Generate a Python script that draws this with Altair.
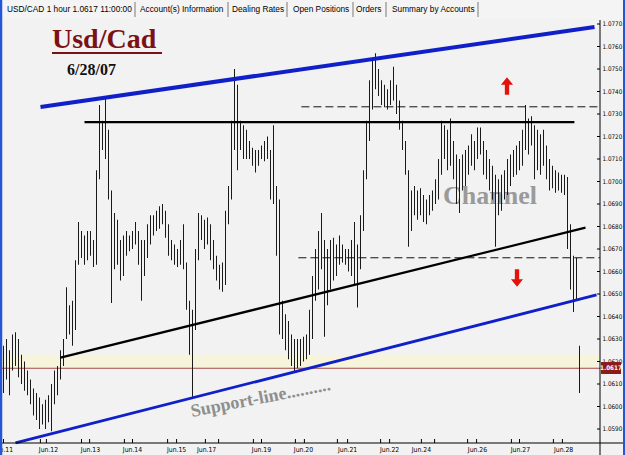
import altair as alt
import pandas as pd

# ---------------- data ----------------
high = [1.0627, 1.0630, 1.0625, 1.0632, 1.0633, 1.0630, 1.0623, 1.0620, 1.0616, 1.0612,
        1.0608, 1.0606, 1.0604, 1.0601, 1.0603, 1.0605, 1.0610, 1.0616, 1.0618, 1.0625,
        1.0630, 1.0653, 1.0645, 1.0647, 1.0665, 1.0682, 1.0678, 1.0676, 1.0678, 1.0678,
        1.0674, 1.0705, 1.0734, 1.0727, 1.0738, 1.0723, 1.0696, 1.0686, 1.0683, 1.0674,
        1.0676, 1.0678, 1.0676, 1.0678, 1.0682, 1.0678, 1.0674, 1.0674, 1.0681, 1.0685,
        1.0685, 1.0687, 1.0689, 1.0690, 1.0687, 1.0681, 1.0674, 1.0672, 1.0670, 1.0674,
        1.0681, 1.0664, 1.0647, 1.0643, 1.0670, 1.0686, 1.0685, 1.0683, 1.0684, 1.0681,
        1.0674, 1.0667, 1.0663, 1.0664, 1.0687, 1.0698, 1.0727, 1.0750, 1.0743, 1.0727,
        1.0725, 1.0723, 1.0718, 1.0715, 1.0714, 1.0714, 1.0716, 1.0718, 1.0720, 1.0714,
        1.0725, 1.0698, 1.0692, 1.0647, 1.0641, 1.0638, 1.0632, 1.0630, 1.0630, 1.0630,
        1.0631, 1.0632, 1.0643, 1.0658, 1.0670, 1.0678, 1.0686, 1.0674, 1.0670, 1.0674,
        1.0675, 1.0672, 1.0676, 1.0672, 1.0670, 1.0670, 1.0674, 1.0682, 1.0672, 1.0685,
        1.0705, 1.0727, 1.0745, 1.0754, 1.0757, 1.0750, 1.0745, 1.0743, 1.0741, 1.0745,
        1.0751, 1.0743, 1.0736, 1.0727, 1.0718, 1.0705, 1.0696, 1.0698, 1.0696, 1.0697,
        1.0694, 1.0692, 1.0694, 1.0696, 1.0701, 1.0710, 1.0727, 1.0725, 1.0723, 1.0728,
        1.0718, 1.0712, 1.0710, 1.0712, 1.0714, 1.0716, 1.0721, 1.0718, 1.0724, 1.0724,
        1.0718, 1.0714, 1.0710, 1.0707, 1.0703, 1.0701, 1.0703, 1.0705, 1.0710, 1.0712,
        1.0714, 1.0716, 1.0718, 1.0723, 1.0734, 1.0728, 1.0729, 1.0725, 1.0723, 1.0721,
        1.0723, 1.0716, 1.0710, 1.0707, 1.0705, 1.0704, 1.0703, 1.0703, 1.0702, 1.0681,
        1.0667, 1.0666, 1.0627]
low = [1.0606, 1.0612, 1.0605, 1.0616, 1.0618, 1.0613, 1.0610, 1.0607, 1.0605, 1.0601,
       1.0596, 1.0594, 1.0590, 1.0592, 1.0590, 1.0593, 1.0589, 1.0601, 1.0605, 1.0612,
       1.0618, 1.0630, 1.0632, 1.0627, 1.0634, 1.0663, 1.0666, 1.0663, 1.0665, 1.0667,
       1.0662, 1.0663, 1.0701, 1.0714, 1.0710, 1.0692, 1.0646, 1.0661, 1.0663, 1.0656,
       1.0658, 1.0667, 1.0669, 1.0670, 1.0672, 1.0663, 1.0647, 1.0658, 1.0666, 1.0672,
       1.0676, 1.0678, 1.0679, 1.0681, 1.0675, 1.0667, 1.0665, 1.0663, 1.0662, 1.0663,
       1.0661, 1.0643, 1.0623, 1.0604, 1.0634, 1.0665, 1.0674, 1.0670, 1.0672, 1.0665,
       1.0661, 1.0656, 1.0652, 1.0651, 1.0654, 1.0681, 1.0692, 1.0714, 1.0705, 1.0714,
       1.0710, 1.0710, 1.0710, 1.0707, 1.0704, 1.0707, 1.0710, 1.0709, 1.0710, 1.0692,
       1.0690, 1.0667, 1.0632, 1.0630, 1.0625, 1.0621, 1.0618, 1.0615, 1.0617, 1.0618,
       1.0620, 1.0621, 1.0623, 1.0630, 1.0647, 1.0652, 1.0661, 1.0631, 1.0645, 1.0652,
       1.0656, 1.0658, 1.0663, 1.0664, 1.0663, 1.0660, 1.0658, 1.0654, 1.0644, 1.0661,
       1.0678, 1.0701, 1.0718, 1.0732, 1.0741, 1.0738, 1.0734, 1.0733, 1.0732, 1.0734,
       1.0736, 1.0730, 1.0723, 1.0714, 1.0703, 1.0671, 1.0678, 1.0685, 1.0683, 1.0685,
       1.0682, 1.0681, 1.0685, 1.0687, 1.0690, 1.0692, 1.0703, 1.0710, 1.0705, 1.0707,
       1.0701, 1.0690, 1.0686, 1.0696, 1.0698, 1.0703, 1.0707, 1.0705, 1.0710, 1.0712,
       1.0703, 1.0701, 1.0696, 1.0692, 1.0671, 1.0685, 1.0687, 1.0692, 1.0694, 1.0698,
       1.0702, 1.0703, 1.0705, 1.0707, 1.0714, 1.0712, 1.0716, 1.0701, 1.0705, 1.0703,
       1.0707, 1.0701, 1.0696, 1.0697, 1.0695, 1.0696, 1.0695, 1.0694, 1.0670, 1.0652,
       1.0642, 1.0647, 1.0606]

date_labels = ["Jun.11", "Jun.12", "Jun.13", "Jun.14", "Jun.15", "Jun.17", "Jun.19",
               "Jun.20", "Jun.21", "Jun.22", "Jun.24", "Jun.26", "Jun.27", "Jun.28"]
date_pos = [0, 15, 29, 43, 57.7, 67.7, 86, 100, 114.7, 128.7, 139.3, 158, 172.3, 186.7]
date_ticks = [0, 12.3, 14.3, 26, 28.7, 40.3, 43, 54.7, 57.7, 67.3, 71.7, 83.3, 86, 97.3,
              100.3, 111.3, 114.7, 125.7, 128.7, 139.3, 143.7, 154.7, 157.7, 169.3, 172,
              183.3, 186.3]
price_ticks = [1.0590, 1.0600, 1.0610, 1.0620, 1.0630, 1.0640, 1.0650, 1.0660, 1.0670,
               1.0680, 1.0690, 1.0700, 1.0710, 1.0720, 1.0730, 1.0740, 1.0750, 1.0760, 1.0770]
price_labels = ["1.0590", "1.0600", "1.0610", "1.0620", "1.0630", "1.0640", "1.0650",
                "1.0660", "1.0670", "1.0680", "1.0690", "1.0700", "1.0710", "1.0720",
                "1.0730", "1.0740", "1.0750", "1.0760", "1.0770"]
current_price = 1.0617
band_top = 1.0623

# trend lines: (bar, price) -> (bar, price)
blue_lines = pd.DataFrame({"x": [12.33, 4.0], "y": [1.07331, 1.05838],
                           "x2": [197.0, 197.67], "y2": [1.07687, 1.06496],
                           "w": [4.0, 2.8]})
black_lines = pd.DataFrame({"x": [27.0, 19.0], "y": [1.07264, 1.06217],
                            "x2": [190.3, 194.0], "y2": [1.07264, 1.06795]})
dashed_lines = pd.DataFrame({"x": [99.3, 98.3], "y": [1.07332, 1.06661],
                             "x2": [198.8, 198.8], "y2": [1.07332, 1.06661]})

tab_labels = ["USD/CAD 1 hour 1.0617 11:00:00", "Account(s) Information", "Dealing Rates",
              "Open Positions", "Orders", "Summary by Accounts"]

# ---------------- layout ----------------
W, H = 598, 423
xs = alt.Scale(domain=[-0.5, 198.8333], nice=False, zero=False)
ys = alt.Scale(domain=[1.058378, 1.077178], nice=False, zero=False)
one = pd.DataFrame({"k": [0]})
SMALL = "Liberation Sans Narrow, DejaVu Sans Condensed, Liberation Sans, sans-serif"
SERIF = "Liberation Serif, Times New Roman, serif"

bars_df = pd.DataFrame({"i": list(range(len(high))), "high": high, "low": low})

def px(v):
    return alt.value(v)

band = alt.Chart(one).mark_rect(color="#f7f4dc").encode(
    x=px(0), x2=px(W),
    y=alt.Y("a:Q", scale=ys, axis=None), y2="b:Q"
).transform_calculate(a=str(current_price), b=str(band_top))

price_line = alt.Chart(one).mark_rule(color="#a04848", strokeWidth=1).encode(
    x=px(0), x2=px(W), y=alt.Y("a:Q", scale=ys, axis=None)
).transform_calculate(a=str(current_price))

channel_txt = alt.Chart(one).mark_text(
    text="Channel", font=SERIF, fontSize=26, fontWeight="bold", color="#9a9a9a",
    align="left", baseline="alphabetic").encode(x=px(441), y=px(184))

support_txt = alt.Chart(one).mark_text(
    text="Support-line..........", font=SERIF, fontSize=18, fontWeight="bold",
    color="#8e8e8e", align="left", baseline="alphabetic", angle=349
).encode(x=px(190), y=px(397))

bars = alt.Chart(bars_df).mark_rule(color="#1a1a1a", strokeWidth=1).encode(
    x=alt.X("i:Q", scale=xs, axis=None),
    y=alt.Y("low:Q", scale=ys, axis=None), y2="high:Q")

def seg(df, **kw):
    return alt.Chart(df).mark_rule(**kw).encode(
        x=alt.X("x:Q", scale=xs, axis=None), x2="x2:Q",
        y=alt.Y("y:Q", scale=ys, axis=None), y2="y2:Q")

blue = alt.Chart(blue_lines).mark_rule(color="#1020c8").encode(
    x=alt.X("x:Q", scale=xs, axis=None), x2="x2:Q",
    y=alt.Y("y:Q", scale=ys, axis=None), y2="y2:Q",
    strokeWidth=alt.StrokeWidth("w:Q", scale=None, legend=None))
black = seg(black_lines, color="#000000", strokeWidth=2.2)
dashed = seg(dashed_lines, color="#111111", strokeWidth=1, strokeDash=[8, 4])

up_arrow = "M0,-1L0.7,-0.15L0.25,-0.15L0.25,1L-0.25,1L-0.25,-0.15L-0.7,-0.15Z"
down_arrow = "M0,1L0.7,0.15L0.25,0.15L0.25,-1L-0.25,-1L-0.25,0.15L-0.7,0.15Z"
arrow1 = alt.Chart(one).mark_point(shape=up_arrow, filled=True, size=300,
                                   color="#e3120b", opacity=1).encode(x=px(505), y=px(66))
arrow2 = alt.Chart(one).mark_point(shape=down_arrow, filled=True, size=300,
                                   color="#e3120b", opacity=1).encode(x=px(515), y=px(258))

title = alt.Chart(one).mark_text(
    text="Usd/Cad", font=SERIF, fontSize=28, fontWeight="bold", color="#7b1113",
    align="left", baseline="alphabetic").encode(x=px(50), y=px(28))
title_ul = alt.Chart(one).mark_rule(color="#7b1113", strokeWidth=2).encode(
    x=px(50), x2=px(160), y=px(33))
subtitle = alt.Chart(one).mark_text(
    text="6/28/07", font=SERIF, fontSize=16, fontWeight="bold", color="#111111",
    align="left", baseline="alphabetic").encode(x=px(65), y=px(55))

# axes
ytick_df = pd.DataFrame({"p": price_ticks, "lab": price_labels})
y_ticks = alt.Chart(ytick_df).mark_rule(color="#000000", strokeWidth=1).encode(
    y=alt.Y("p:Q", scale=ys, axis=None), x=px(595), x2=px(W))
y_labels = alt.Chart(ytick_df).mark_text(
    font=SMALL, fontSize=6.3, color="#000000", align="left", baseline="middle"
).encode(y=alt.Y("p:Q", scale=ys, axis=None), x=px(600.5), text="lab:N")

xtick_df = pd.DataFrame({"t": date_ticks})
x_ticks = alt.Chart(xtick_df).mark_rule(color="#000000").encode(
    x=alt.X("t:Q", scale=xs, axis=None), y=px(H - 4), y2=px(H))
xlab_df = pd.DataFrame({"t": date_pos, "lab": date_labels})
x_labels = alt.Chart(xlab_df).mark_text(
    font=SMALL, fontSize=6.8, color="#000000", align="center", baseline="middle"
).encode(x=alt.X("t:Q", scale=xs, axis=None), y=px(H + 7), text="lab:N")

x_axis_line = alt.Chart(one).mark_rule(color="#000000").encode(
    x=px(-2), x2=px(623), y=px(H))
y_axis_line = alt.Chart(one).mark_rule(color="#000000").encode(
    x=px(W), y=px(0), y2=px(H + 12))

price_box = alt.Chart(one).mark_rect(color="#8e1b1b").encode(
    x=px(W + 1), x2=px(W + 21), y=px(342), y2=px(354))
price_box_txt = alt.Chart(one).mark_text(
    text="1.0617", font=SMALL, fontSize=6.3, fontWeight="bold", color="#ffffff",
    align="center", baseline="middle").encode(x=px(W + 11), y=px(348))

# tab strip
tab_bg = alt.Chart(one).mark_rect(color="#f4f4f4").encode(
    x=px(-2), x2=px(623), y=px(-20), y2=px(-1))
tab_df = pd.DataFrame({"lab": tab_labels, "px": [5, 138, 230, 291, 354, 390]})
tab_txt = alt.Chart(tab_df).mark_text(
    font="Liberation Sans, Arial, sans-serif", fontSize=8.3, color="#000000",
    align="left", baseline="middle").encode(
    x=alt.X("px:Q", scale=None, axis=None), y=px(-10), text="lab:N")
sep_df = pd.DataFrame({"px": [133, 226, 285, 351, 384, 476]})
tab_sep = alt.Chart(sep_df).mark_rule(color="#7a7a7a").encode(
    x=alt.X("px:Q", scale=None, axis=None), y=px(-18), y2=px(-3))

frame_l = alt.Chart(one).mark_rule(color="#2456d6", strokeWidth=2.5).encode(
    x=px(-1), y=px(-20), y2=px(H + 12))
frame_r = alt.Chart(one).mark_rule(color="#2456d6", strokeWidth=2).encode(
    x=px(622), y=px(-20), y2=px(H + 12))

chart = alt.layer(
    band, price_line, channel_txt, support_txt, bars, black, dashed, blue,
    arrow1, arrow2, title, title_ul, subtitle,
    y_ticks, y_labels, x_ticks, x_labels, x_axis_line, y_axis_line,
    price_box, price_box_txt, tab_bg, tab_txt, tab_sep, frame_l, frame_r
).properties(
    width=W, height=H,
    padding={"left": 2, "top": 20, "right": 25, "bottom": 12},
    autosize=alt.AutoSizeParams(type="none"),
    background="#f2f2f2"
).configure_view(stroke=None, fill="#f2f2f2")

chart.save("out.html", embed_options={"renderer": "svg", "actions": False})
